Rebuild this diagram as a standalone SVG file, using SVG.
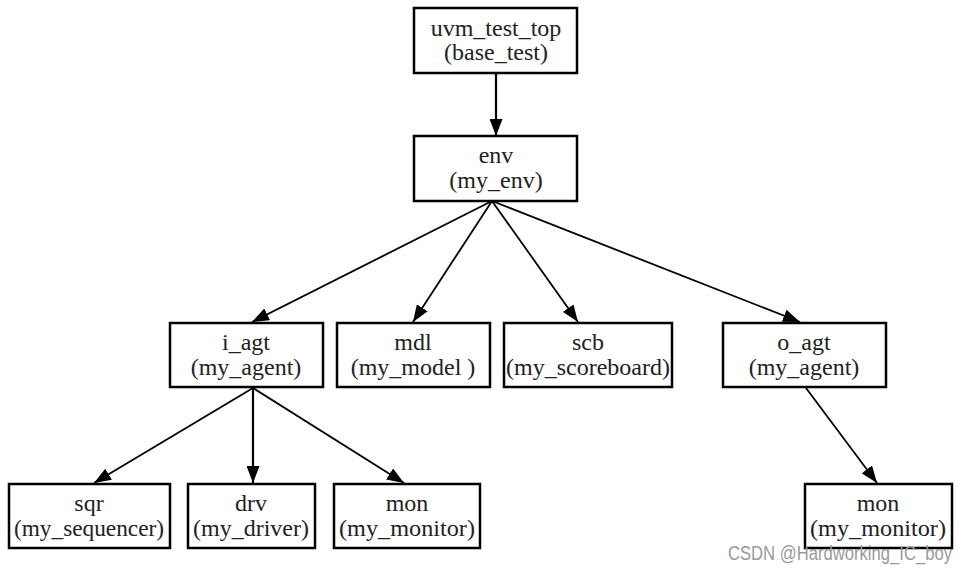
<svg xmlns="http://www.w3.org/2000/svg" width="967" height="573" viewBox="0 0 967 573">
<style>
.box{fill:#fff;stroke:#000;stroke-width:2.5}
.t{font-family:"Liberation Serif","Times New Roman",serif;font-size:24px;fill:#222;text-anchor:middle}
.e{stroke:#000;stroke-width:1.8;fill:none;marker-end:url(#ah)}
.wm{font-family:"Liberation Sans",Arial,sans-serif;font-size:20px;fill:#9a9a9a}
</style>
<defs>
<marker id="ah" markerUnits="userSpaceOnUse" markerWidth="17" markerHeight="13" viewBox="0 0 17 13" refX="17" refY="6.5" orient="auto">
<path d="M0,0 L17,6.5 L0,13 Z" fill="#000"/>
</marker>
</defs>
<rect width="967" height="573" fill="#fff"/>
<g id="edges">
<line class="e" x1="496" y1="73" x2="496" y2="136" style="stroke-width:2.2"/>
<line class="e" x1="492" y1="201" x2="252" y2="322"/>
<line class="e" x1="492" y1="201" x2="413" y2="322"/>
<line class="e" x1="492" y1="201" x2="578" y2="322"/>
<line class="e" x1="492" y1="201" x2="800" y2="322"/>
<line class="e" x1="253" y1="388" x2="94" y2="483"/>
<line class="e" x1="253" y1="388" x2="253" y2="483" style="stroke-width:2.2"/>
<line class="e" x1="253" y1="388" x2="404" y2="483"/>
<line class="e" x1="806" y1="388" x2="877" y2="483"/>
</g>
<g id="uvm_test_top"><rect class="box" x="414" y="8" width="163" height="65"/><text class="t" x="496" y="36">uvm_test_top</text><text class="t" x="496" y="60">(base_test)</text></g>
<g id="env"><rect class="box" x="414" y="136" width="163" height="65"/><text class="t" x="496" y="163">env</text><text class="t" x="496" y="188">(my_env)</text></g>
<g id="i_agt"><rect class="box" x="170" y="323" width="153" height="64"/><text class="t" x="246" y="350">i_agt</text><text class="t" x="246" y="375">(my_agent)</text></g>
<g id="mdl"><rect class="box" x="337" y="323" width="153" height="64"/><text class="t" x="413" y="350">mdl</text><text class="t" x="413" y="375">(my_model )</text></g>
<g id="scb"><rect class="box" x="504" y="323" width="168" height="64"/><text class="t" x="588" y="350">scb</text><text class="t" x="588" y="375">(my_scoreboard)</text></g>
<g id="o_agt"><rect class="box" x="723" y="323" width="163" height="64"/><text class="t" x="804" y="350">o_agt</text><text class="t" x="804" y="375">(my_agent)</text></g>
<g id="sqr"><rect class="box" x="9" y="484" width="161" height="64"/><text class="t" x="89" y="511">sqr</text><text class="t" x="89" y="536" textLength="150" lengthAdjust="spacingAndGlyphs">(my_sequencer)</text></g>
<g id="drv"><rect class="box" x="188" y="484" width="127" height="64"/><text class="t" x="251" y="511">drv</text><text class="t" x="251" y="536" textLength="116" lengthAdjust="spacingAndGlyphs">(my_driver)</text></g>
<g id="mon_i"><rect class="box" x="334" y="484" width="146" height="64"/><text class="t" x="407" y="511">mon</text><text class="t" x="407" y="536" textLength="136" lengthAdjust="spacingAndGlyphs">(my_monitor)</text></g>
<g id="mon_o"><rect class="box" x="805" y="484" width="147" height="64"/><text class="t" x="878" y="511">mon</text><text class="t" x="878" y="536" textLength="136" lengthAdjust="spacingAndGlyphs">(my_monitor)</text></g>
<text class="wm" x="728" y="560" textLength="224" lengthAdjust="spacingAndGlyphs">CSDN @Hardworking_IC_boy</text>
</svg>
